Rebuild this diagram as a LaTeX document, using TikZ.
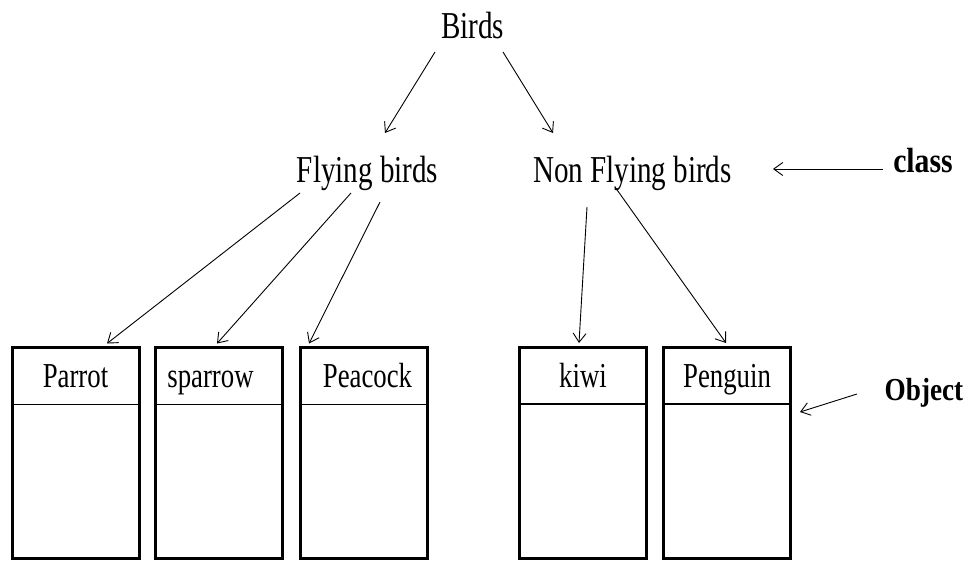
\documentclass[tikz,border=0pt]{standalone}
\usepackage{fontspec}
\setmainfont{Liberation Serif}[FakeStretch=0.765]
\newfontfamily\bfnt{Liberation Serif}[FakeStretch=0.85]
\usetikzlibrary{arrows.meta}
\begin{document}
\begin{tikzpicture}[x=1pt,y=-1pt,
  ttl/.style={anchor=base,inner sep=0pt,font=\fontsize{38}{40}\selectfont},
  lbl/.style={anchor=base,inner sep=0pt,font=\fontsize{35}{37}\selectfont},
  tag/.style={anchor=base,inner sep=0pt,font=\bfnt\bfseries\fontsize{32}{34}\selectfont},
  objbox/.style={draw,line width=3pt,minimum width=127pt,minimum height=211pt,inner sep=0pt},
  conn/.style={line width=0.9pt,-{Straight Barb[length=9pt,width=13pt]}},
  divline/.style={line width=1.3pt}]
\useasboundingbox (0,0) rectangle (966,560);

% class hierarchy
\node[ttl] (birds) at (472.5,38) {Birds};
\node[ttl] (fly) at (367.5,182) {Flying birds};
\node[ttl] (nonfly) at (632.5,182) {Non Flying birds};

% object boxes
\node[objbox] (parrot) at (75.5,452.5) {};
\node[objbox] (sparrow) at (219,452.5) {};
\node[objbox] (peacock) at (363.5,452.5) {};
\node[objbox] (kiwi) at (582.5,453) {};
\node[objbox] (penguin) at (726.5,453) {};

\foreach \b in {parrot,sparrow,peacock}{
  \draw[divline] ([shift={(0,59)}]\b.north west) -- ([shift={(0,59)}]\b.north east);
}
\foreach \b in {kiwi,penguin}{
  \draw[divline] ([shift={(0,58)}]\b.north west) -- ([shift={(0,58)}]\b.north east);
}

\node[lbl] (tparrot) at (75.5,387) {Parrot};
\node[lbl] (tsparrow) at (210.5,387) {sparrow};
\node[lbl] (tpeacock) at (367.5,387) {Peacock};
\node[lbl] (tkiwi) at (583,387) {kiwi};
\node[lbl] (tpenguin) at (727,387) {Penguin};

% side tags
\node[tag,font=\bfnt\bfseries\fontsize{35}{37}\selectfont] (class) at (923,172) {class};
\node[tag] (object) at (924,400) {Object};
\coordinate (classtip) at (773,169);
\coordinate (objtip) at (800,412);

% connectors
\draw[conn] ([shift={(-37.5,14)}]birds.base) -- ([shift={(17.5,-49)}]fly.base);
\draw[conn] ([shift={(30.5,14)}]birds.base) -- ([shift={(-79.5,-49)}]nonfly.base);

\draw[conn] ([shift={(-67.5,11)}]fly.base) -- ([shift={(31.5,-2)}]parrot.north);
\draw[conn] ([shift={(-16.5,11)}]fly.base) -- ([shift={(-2,-2)}]sparrow.north);
\draw[conn] ([shift={(12.5,20)}]fly.base) -- ([shift={(-54.5,-2)}]peacock.north);

\draw[conn] ([shift={(-45.5,25)}]nonfly.base) -- ([shift={(-3.5,-3)}]kiwi.north);
\draw[conn] ([shift={(-17.5,5)}]nonfly.base) -- ([shift={(-0.5,-3)}]penguin.north);

\draw[conn] ([shift={(-40,-3)}]class.base) -- (classtip);
\draw[conn] ([shift={(-67,-6)}]object.base) -- (objtip);
\end{tikzpicture}
\end{document}
